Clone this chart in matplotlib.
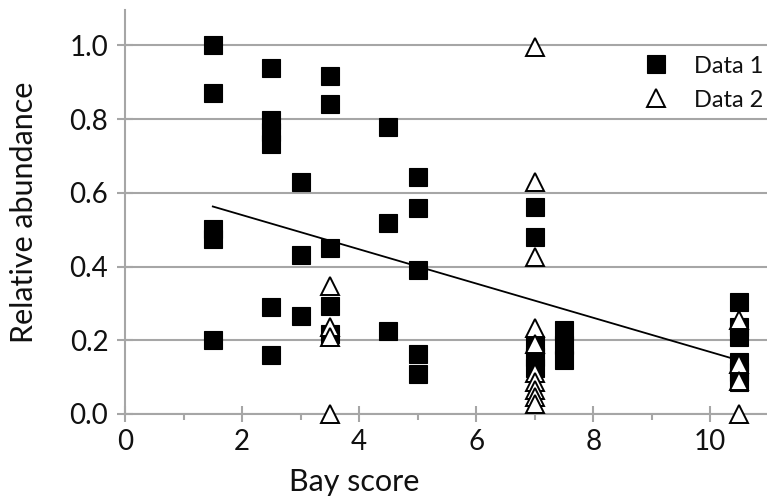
import matplotlib
matplotlib.use("Agg")
import matplotlib.pyplot as plt
from matplotlib.ticker import MultipleLocator

# Data 1: filled squares
data1_x = [1.5, 1.5, 1.5, 1.5, 1.5,
           2.5, 2.5, 2.5, 2.5, 2.5, 2.5,
           3.0, 3.0, 3.0,
           3.5, 3.5, 3.5, 3.5, 3.5,
           4.5, 4.5, 4.5,
           5.0, 5.0, 5.0, 5.0, 5.0,
           7.0, 7.0, 7.0, 7.0, 7.0,
           7.5, 7.5, 7.5,
           10.5, 10.5, 10.5, 10.5, 10.5, 10.5]
data1_y = [1.0, 0.872, 0.503, 0.476, 0.2,
           0.94, 0.799, 0.765, 0.732, 0.29, 0.16,
           0.63, 0.432, 0.265,
           0.918, 0.841, 0.45, 0.294, 0.218,
           0.778, 0.517, 0.225,
           0.643, 0.558, 0.39, 0.164, 0.108,
           0.561, 0.481, 0.187, 0.155, 0.124,
           0.227, 0.187, 0.146,
           0.303, 0.235, 0.21, 0.14, 0.115, 0.088]

# Data 2: open triangles
data2_x = [3.5, 3.5, 3.5, 3.5,
           7.0, 7.0, 7.0, 7.0, 7.0, 7.0, 7.0, 7.0, 7.0, 7.0,
           10.5, 10.5, 10.5, 10.5]
data2_y = [0.348, 0.237, 0.209, 0.0,
           0.997, 0.629, 0.426, 0.234, 0.19, 0.11, 0.087, 0.065, 0.045, 0.028,
           0.255, 0.135, 0.09, 0.0]

# fitted trend line end points
trend_x = [1.5, 10.5]
trend_y = [0.563, 0.145]

plt.rcParams["font.family"] = ["Lato", "DejaVu Sans"]
ink = "#111111"

fig = plt.figure(figsize=(7.67, 5.03), dpi=100)
ax = fig.add_axes([0.163, 0.177, 0.837, 0.803])

grey = "#a6a6a6"
ax.grid(axis="y", color=grey, linewidth=1.5)
ax.set_axisbelow(True)

ax.plot(trend_x, trend_y, color="black", linewidth=1.3, zorder=2)
ax.plot(data1_x, data1_y, linestyle="none", marker="s", markersize=13.5,
        markerfacecolor="black", markeredgecolor="black", markeredgewidth=0.8,
        label="Data 1", zorder=3, clip_on=False)
ax.plot(data2_x, data2_y, linestyle="none", marker="^", markersize=13,
        markerfacecolor="white", markeredgecolor="black", markeredgewidth=1.4,
        label="Data 2", zorder=4, clip_on=False)

ax.set_xlim(0, 10.97)
ax.set_ylim(0, 1.096)
ax.xaxis.set_major_locator(MultipleLocator(2))
ax.xaxis.set_minor_locator(MultipleLocator(1))
ax.yaxis.set_major_locator(MultipleLocator(0.2))
ax.yaxis.set_major_formatter(matplotlib.ticker.FormatStrFormatter("%.1f"))

for side in ("top", "right"):
    ax.spines[side].set_visible(False)
for side in ("left", "bottom"):
    ax.spines[side].set_color(grey)
    ax.spines[side].set_linewidth(1.5)

ax.tick_params(axis="both", which="major", direction="inout", length=12,
               width=1.5, color=grey, labelsize=20, labelcolor=ink)
ax.tick_params(axis="x", which="minor", direction="out", length=4,
               width=1.5, color=grey)
ax.tick_params(axis="y", pad=6)
ax.tick_params(axis="x", pad=5)

ax.set_ylabel("Relative abundance", fontsize=22, color=ink)
ax.yaxis.set_label_coords(-0.135, 0.5)
ax.set_xlabel("Bay score", fontsize=22, color=ink)
ax.xaxis.set_label_coords(0.357, -0.134)

ax.legend(loc="upper right", bbox_to_anchor=(1.027, 0.94), frameon=False,
          fontsize=17, handletextpad=0.6, labelspacing=0.55, markerscale=0.95,
          labelcolor=ink)

fig.savefig("out.png", dpi=100)
